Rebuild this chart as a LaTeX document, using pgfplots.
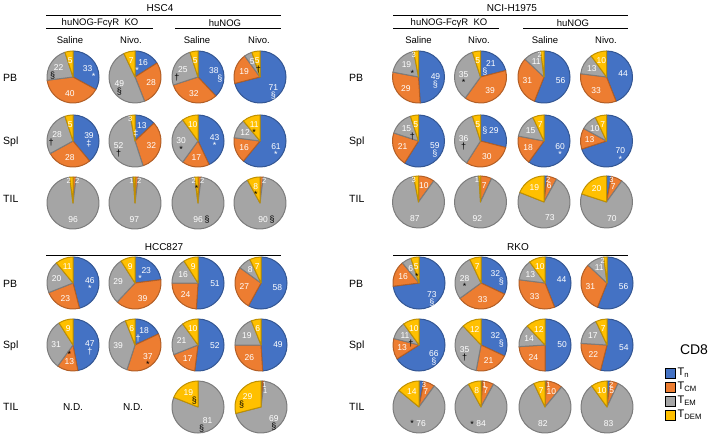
\documentclass[border=0pt]{standalone}
\usepackage{fontspec}
\setmainfont{Liberation Sans}
\usepackage{pgfplots}
\pgfplotsset{compat=1.18}

\definecolor{cTn}{HTML}{4472C4}
\definecolor{cTcm}{HTML}{ED7D31}
\definecolor{cTem}{HTML}{A5A5A5}
\definecolor{cTdem}{HTML}{FFC000}

\newcommand\fs[1]{\fontsize{#1bp}{#1bp}\selectfont}
\tikzset{
  pienum/.style={font=\fs{8.5}, text=white, inner sep=0.5bp},
  piesym/.style={font=\fs{9}, inner sep=0pt},
  hdr/.style={font=\fs{10}, inner sep=0pt},
  sub/.style={font=\fs{9.5}, inner sep=0pt},
  rowlab/.style={font=\fs{10.5}, anchor=base west, inner sep=0pt},
  pie values/.code args={#1,#2,#3,#4,#5,#6,#7,#8}{%
    \def\vA{#1}\def\vB{#2}\def\vC{#3}\def\vD{#4}%
    \def\sA{#5}\def\sB{#6}\def\sC{#7}\def\sD{#8}},
}
\def\pieR{26bp}

% one sector: colour, start (%), value (%)
\newcommand\slice[3]{%
  \ifdim #3pt>0pt
    \pgfmathsetmacro\ppS{90-3.6*(#2)}%
    \pgfmathsetmacro\ppE{90-3.6*(#2+#3)}%
    \filldraw[fill=#1, draw=#1!75!black, line width=1bp, line join=round]
      (0,0) -- (\ppS:\pieR) arc[start angle=\ppS, end angle=\ppE, radius=\pieR] -- cycle;
  \fi}

% label of a sector: start, value, sign code (tens: place, units: sign), sign colour, radius if tiny
\newcommand\slicelabel[5]{%
  \ifdim #2pt>0pt
    \pgfmathsetmacro\ppM{90-3.6*(#1+0.5*#2)}%
    \pgfmathsetmacro\ppR{#2<4 ? #5 : 17}%
    \pgfmathtruncatemacro\ppSide{cos(\ppM)>0}%
    \ifdim #2pt<4pt
      \ifnum\ppSide=1 \def\ppA{west}\else\def\ppA{east}\fi
      \def\ppF{\fs{7.5}}%
    \else\def\ppA{center}\def\ppF{\fs{8.5}}\fi
    \node[pienum, font=\ppF, anchor=\ppA] at (\ppM:\ppR bp) {#2};
    \pgfmathtruncatemacro\ppP{floor(#3/10)}%
    \pgfmathtruncatemacro\ppG{#3-10*\ppP}%
    \ifnum\ppG>0
      \ifcase\ppP \def\ppX{0bp}\def\ppY{-8bp}% below
      \or \def\ppX{9bp}\def\ppY{0bp}%         right
      \or \def\ppX{-9bp}\def\ppY{0bp}%        left
      \or \def\ppX{0bp}\def\ppY{7bp}%         above
      \or \def\ppX{6bp}\def\ppY{-8bp}%        below right
      \or \def\ppX{-6bp}\def\ppY{-8bp}%       below left
      \fi
      \node[piesym, text=#4, xshift=\ppX, yshift=\ppY] at (\ppM:\ppR bp)
        {\ifcase\ppG\or *\or †\or ‡\or §\fi};
    \fi
  \fi}

\newcommand\drawpie{%
  \pgfmathsetmacro\ppC{\vA+\vB}%
  \pgfmathsetmacro\ppD{\vA+\vB+\vC}%
  \def\ppT{22.5}%
  \ifdim\vA pt>0pt \ifdim\vA pt<4pt \def\ppT{16}\fi\fi
  \slice{cTn}{0}{\vA}%
  \slice{cTcm}{\vA}{\vB}%
  \slice{cTem}{\ppC}{\vC}%
  \slice{cTdem}{\ppD}{\vD}%
  \slicelabel{0}{\vA}{\sA}{white}{22.5}%
  \slicelabel{\vA}{\vB}{\sB}{black}{\ppT}%
  \slicelabel{\ppC}{\vC}{\sC}{black}{22.5}%
  \slicelabel{\ppD}{\vD}{\sD}{black}{22.5}}
\pgfdeclareplotmark{pie}{\drawpie}

% one pie = one point: {x,y of the centre}{Tn,Tcm,Tem,Tdem (%), signs on the four sectors}
% signs: 0 none, 1 *, 2 dagger, 3 double dagger, 4 section;
% +10 right, +20 left, +30 above, +40 below right, +50 below left
\newcommand\pie[2]{%
  \addplot[only marks, mark=pie, forget plot, pie values={#2}] coordinates {(#1)};}

\begin{document}
\begin{tikzpicture}
\begin{axis}[
  width=708bp, height=439bp, scale only axis,
  xmin=0, xmax=708, ymin=0, ymax=439, y dir=reverse,
  hide axis, clip=false,
  legend image code/.code={\fill[#1] (0bp,-5bp) rectangle (10bp,5bp);},
  legend cell align=left,
  legend style={at={(axis cs:665,366)}, anchor=north west, draw=none, fill=none,
    font=\fs{11}, row sep=1bp, inner sep=0pt},
]
% HSC4
\pie{73,77}{33,40,22,5,41,0,54,0}
\pie{135,77}{16,28,49,7,51,0,4,0}
\pie{198,77}{38,32,25,5,44,0,52,0}
\pie{260,77}{71,19,5,5,4,0,42,0}
\pie{73,141}{39,28,28,5,3,0,52,0}
\pie{135,141}{13,32,52,3,53,0,2,0}
\pie{198,141}{43,17,30,10,1,0,1,0}
\pie{260,141}{61,16,12,11,1,0,11,0}
\pie{73,203}{0,2,96,2,0,0,0,0}
\pie{135,203}{0,2,97,1,0,0,0,0}
\pie{198,203}{0,2,96,2,0,0,14,1}
\pie{260,203}{0,2,90,8,0,0,14,1}
% NCI-H1975
\pie{418.5,77}{49,29,19,3,4,0,41,0}
\pie{480.5,77}{21,39,35,5,54,0,1,0}
\pie{544,77}{56,31,11,2,0,0,0,0}
\pie{606.5,77}{44,33,13,10,0,0,0,0}
\pie{418.5,141}{59,21,15,5,4,0,42,0}
\pie{480.5,141}{29,30,36,5,24,0,2,0}
\pie{544,141}{60,18,15,7,1,0,0,0}
\pie{606.5,141}{70,13,10,7,1,0,0,0}
\pie{418.5,202}{0,10,87,3,0,0,0,0}
\pie{480.5,202}{0,7,92,1,0,0,0,0}
\pie{544,202}{2,6,73,19,0,0,0,0}
\pie{606.5,202}{3,7,70,20,0,0,0,0}
% HCC827
\pie{73,283}{46,23,20,11,1,0,0,0}
\pie{135,283}{23,39,29,9,51,0,0,0}
\pie{198,283}{51,24,16,9,0,0,0,0}
\pie{261,283}{58,27,8,7,0,0,0,0}
\pie{73,345}{47,13,31,9,2,31,0,0}
\pie{135,345}{18,37,39,6,52,1,0,0}
\pie{198,345}{52,17,21,10,0,0,0,0}
\pie{261,345}{49,26,19,6,0,0,0,0}
\pie{198,407}{0,0,81,19,0,0,54,44}
\pie{261,407}{1,1,69,29,0,0,4,54}
% RKO
\pie{419,283}{73,16,6,5,4,0,41,0}
\pie{481,283}{32,33,28,7,44,0,1,0}
\pie{545,283}{44,33,13,10,0,0,0,0}
\pie{607,283}{56,31,11,2,0,0,0,0}
\pie{419,345}{66,13,11,10,4,0,42,0}
\pie{481,345}{32,21,35,12,44,0,2,0}
\pie{545,345}{50,24,14,12,0,0,0,0}
\pie{607,345}{54,22,17,7,0,0,0,0}
\pie{419,407}{3,7,76,14,0,0,21,0}
\pie{481,407}{1,7,84,8,0,0,21,0}
\pie{545,407}{1,10,82,7,0,0,0,0}
\pie{607,407}{2,5,83,10,0,0,0,0}

\addlegendimage{fill=cTn}\addlegendentry{T\textsubscript{n}}
\addlegendimage{fill=cTcm}\addlegendentry{T\textsubscript{CM}}
\addlegendimage{fill=cTem}\addlegendentry{T\textsubscript{EM}}
\addlegendimage{fill=cTdem}\addlegendentry{T\textsubscript{DEM}}

% headers
\node[hdr] at (axis cs:160,8) {HSC4};
\node[hdr] at (axis cs:512,8) {NCI-H1975};
\node[hdr] at (axis cs:164,247) {HCC827};
\node[hdr] at (axis cs:518,247) {RKO};
\draw[line width=1bp] (axis cs:46,16) -- (axis cs:281,16);
\draw[line width=1bp] (axis cs:393,16) -- (axis cs:628,16);
\draw[line width=1bp] (axis cs:46,255) -- (axis cs:281,255);
\draw[line width=1bp] (axis cs:393,255) -- (axis cs:628,255);
\draw[line width=1bp] (axis cs:46,29) -- (axis cs:153,29);
\draw[line width=1bp] (axis cs:175,29) -- (axis cs:281,29);
\draw[line width=1bp] (axis cs:393,29) -- (axis cs:499,29);
\draw[line width=1bp] (axis cs:523,29) -- (axis cs:628,29);
\node[sub] at (axis cs:100,23) {huNOG-FcγR\ \ KO};
\node[sub] at (axis cs:225,23) {huNOG};
\node[sub] at (axis cs:449,23) {huNOG-FcγR\ \ KO};
\node[sub] at (axis cs:573,23) {huNOG};
\node[sub] at (axis cs:70,40) {Saline};
\node[sub] at (axis cs:131,40) {Nivo.};
\node[sub] at (axis cs:197,40) {Saline};
\node[sub] at (axis cs:259,40) {Nivo.};
\node[sub] at (axis cs:418.5,40) {Saline};
\node[sub] at (axis cs:479,40) {Nivo.};
\node[sub] at (axis cs:545,40) {Saline};
\node[sub] at (axis cs:606,40) {Nivo.};
% row labels
\node[rowlab] at (axis cs:3,81.5) {PB};
\node[rowlab] at (axis cs:3,144) {Spl};
\node[rowlab] at (axis cs:3,202) {TIL};
\node[rowlab] at (axis cs:3,287) {PB};
\node[rowlab] at (axis cs:3,348.5) {Spl};
\node[rowlab] at (axis cs:3,410.5) {TIL};
\node[rowlab] at (axis cs:349,81.5) {PB};
\node[rowlab] at (axis cs:349,144) {Spl};
\node[rowlab] at (axis cs:349,202) {TIL};
\node[rowlab] at (axis cs:349,287) {PB};
\node[rowlab] at (axis cs:349,348.5) {Spl};
\node[rowlab] at (axis cs:349,410.5) {TIL};
\node[hdr] at (axis cs:73,407) {N.D.};
\node[hdr] at (axis cs:133,407) {N.D.};
\node[hdr, font=\fs{14}] at (axis cs:694,350) {CD8};
\end{axis}
\pgfresetboundingbox
\path[use as bounding box] (current axis.south west) rectangle (current axis.north east);
\end{tikzpicture}
\end{document}
